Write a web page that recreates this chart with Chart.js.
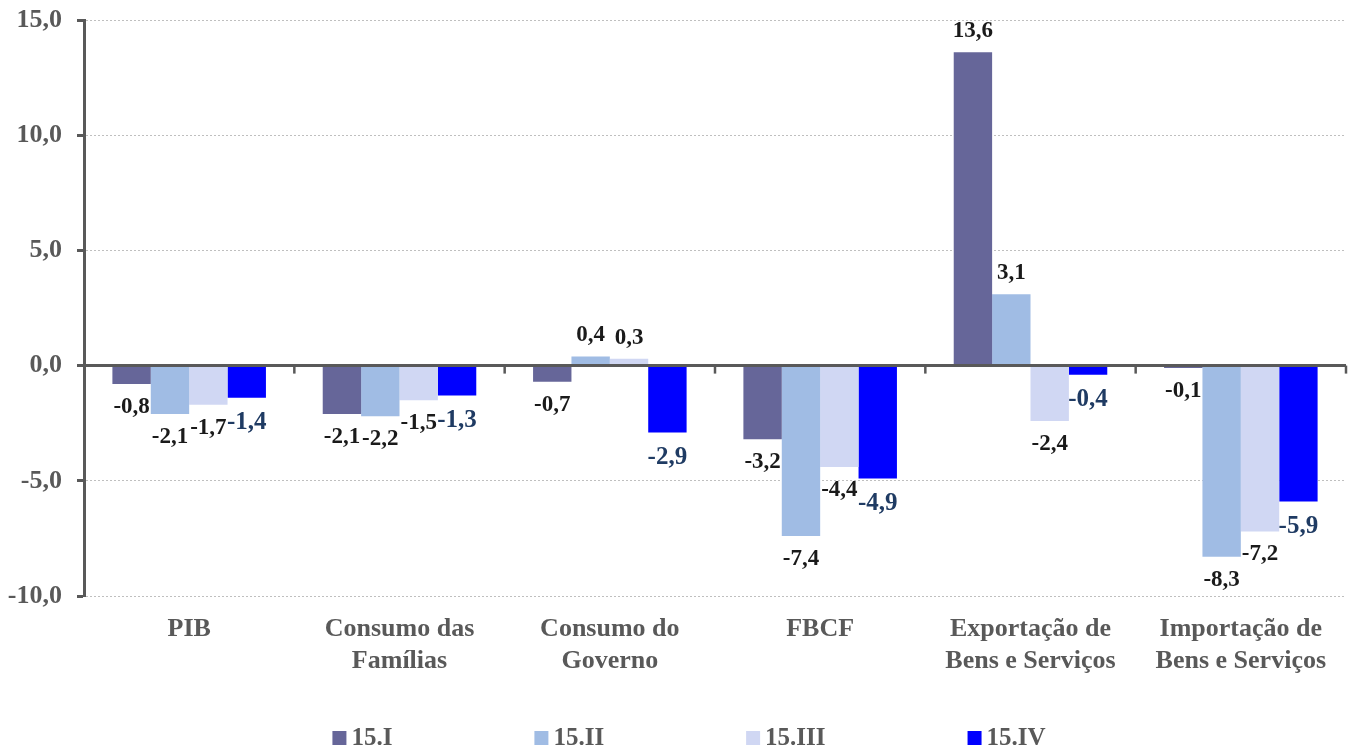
<!DOCTYPE html>
<html>
<head>
<meta charset="utf-8">
<script src="https://cdn.jsdelivr.net/npm/chart.js@4/dist/chart.umd.min.js"></script>
<style>
  body { margin: 0; background: #ffffff; }
  #wrap { width: 1349px; height: 749px; }
</style>
</head>
<body>
<div id="wrap"><canvas id="grafico" width="1349" height="749"></canvas></div>
<script>
const categorias = [
    ["PIB"],
    ["Consumo das", "Famílias"],
    ["Consumo do", "Governo"],
    ["FBCF"],
    ["Exportação de", "Bens e Serviços"],
    ["Importação de", "Bens e Serviços"]
];
const trimestres = ["15.I", "15.II", "15.III", "15.IV"];
const serie15I = [-0.8, -2.1, -0.7, -3.2, 13.6, -0.1];
const serie15II = [-2.1, -2.2, 0.4, -7.4, 3.1, -8.3];
const serie15III = [-1.7, -1.5, 0.3, -4.4, -2.4, -7.2];
const serie15IV = [-1.4, -1.3, -2.9, -4.9, -0.4, -5.9];
const cores = ["#666699", "#A0BCE4", "#D0D7F3", "#0000FF"];

const fonte = "'Liberation Serif', 'Times New Roman', serif";
const cinza = "#595959";

function fmt(v) {
    return v.toFixed(1).replace(".", ",");
}

// rótulos de valor em cada barra
const rotulos = {
    id: 'rotulos',
    afterDatasetsDraw(chart) {
        const ctx = chart.ctx;
        ctx.save();
        ctx.textAlign = 'center';
        ctx.textBaseline = 'middle';
        chart.data.datasets.forEach((ds, i) => {
            const meta = chart.getDatasetMeta(i);
            const ultimo = i === 3;
            ctx.font = "bold " + (ultimo ? 25 : 23) + "px " + fonte;
            ctx.fillStyle = ultimo ? "#1F3B63" : "#1a1a1a";
            meta.data.forEach((bar, j) => {
                const v = ds.data[j];
                const dy = v >= 0 ? -21 : (ultimo ? 25 : 23);
                ctx.fillText(fmt(v), bar.x, bar.y + dy);
            });
        });
        ctx.restore();
    }
};

// linha do zero com marcas entre categorias
const linhaZero = {
    id: 'linhaZero',
    afterDatasetsDraw(chart) {
        const ctx = chart.ctx;
        const x = chart.scales.x, y = chart.scales.y;
        const y0 = y.getPixelForValue(0);
        const passo = x.width / categorias.length;
        ctx.save();
        ctx.strokeStyle = cinza;
        ctx.lineWidth = 3;
        ctx.beginPath();
        ctx.moveTo(x.left, y0);
        ctx.lineTo(x.right, y0);
        ctx.stroke();
        ctx.lineWidth = 2.5;
        for (let i = 1; i <= categorias.length; i++) {
            const px = x.left + passo * i;
            ctx.beginPath();
            ctx.moveTo(px, y0);
            ctx.lineTo(px, y0 + 8);
            ctx.stroke();
        }
        ctx.restore();
    }
};

// legenda com espaçamento fixo entre itens
const legenda = {
    id: 'legenda',
    afterDraw(chart) {
        const ctx = chart.ctx;
        const caixa = 14, folga = 5, espaco = 142;
        ctx.save();
        ctx.font = "bold 25px " + fonte;
        ctx.textBaseline = 'middle';
        const larguras = chart.data.datasets.map(ds => caixa + folga + ctx.measureText(ds.label).width);
        const total = larguras.reduce((a, b) => a + b, 0) + espaco * (larguras.length - 1);
        let x = 689 - total / 2;
        const yc = 738;
        chart.data.datasets.forEach((ds, i) => {
            ctx.fillStyle = ds.backgroundColor;
            ctx.fillRect(x, yc - caixa / 2, caixa, caixa);
            ctx.fillStyle = cinza;
            ctx.fillText(ds.label, x + caixa + folga, yc + 1);
            x += larguras[i] + espaco;
        });
        ctx.restore();
    }
};

const series = [serie15I, serie15II, serie15III, serie15IV];

new Chart(document.getElementById('grafico').getContext('2d'), {
    type: 'bar',
    data: {
        labels: categorias,
        datasets: series.map((dados, i) => ({
            label: trimestres[i],
            data: dados,
            backgroundColor: cores[i],
            borderWidth: 0,
            categoryPercentage: 0.73,
            barPercentage: 1.0
        }))
    },
    options: {
        responsive: false,
        animation: false,
        layout: {
            padding: { top: 20, right: 3, left: 0, bottom: 63 }
        },
        plugins: {
            legend: { display: false },
            tooltip: { enabled: false }
        },
        scales: {
            x: {
                grid: { display: false },
                border: { display: false },
                ticks: {
                    color: cinza,
                    padding: 10,
                    maxRotation: 0,
                    autoSkip: false,
                    font: { family: fonte, size: 26, weight: 'bold', lineHeight: 1.2 }
                },
                afterFit(scale) { scale.height = 90; }
            },
            y: {
                min: -10,
                max: 15,
                ticks: {
                    stepSize: 5,
                    color: cinza,
                    padding: 15,
                    font: { family: fonte, size: 26, weight: 'bold' },
                    callback: v => fmt(v)
                },
                grid: {
                    color: c => c.tick && c.tick.value === 0 ? 'rgba(0,0,0,0)' : '#BFBFBF',
                    lineWidth: 1,
                    tickColor: cinza,
                    tickWidth: 3,
                    tickLength: 7
                },
                border: { display: true, color: cinza, width: 3, dash: [2, 2] },
                afterFit(scale) {
                    scale.width = 84;
                    scale.paddingTop = 0;
                    scale.paddingBottom = 0;
                }
            }
        }
    },
    plugins: [rotulos, linhaZero, legenda]
});
</script>
</body>
</html>
